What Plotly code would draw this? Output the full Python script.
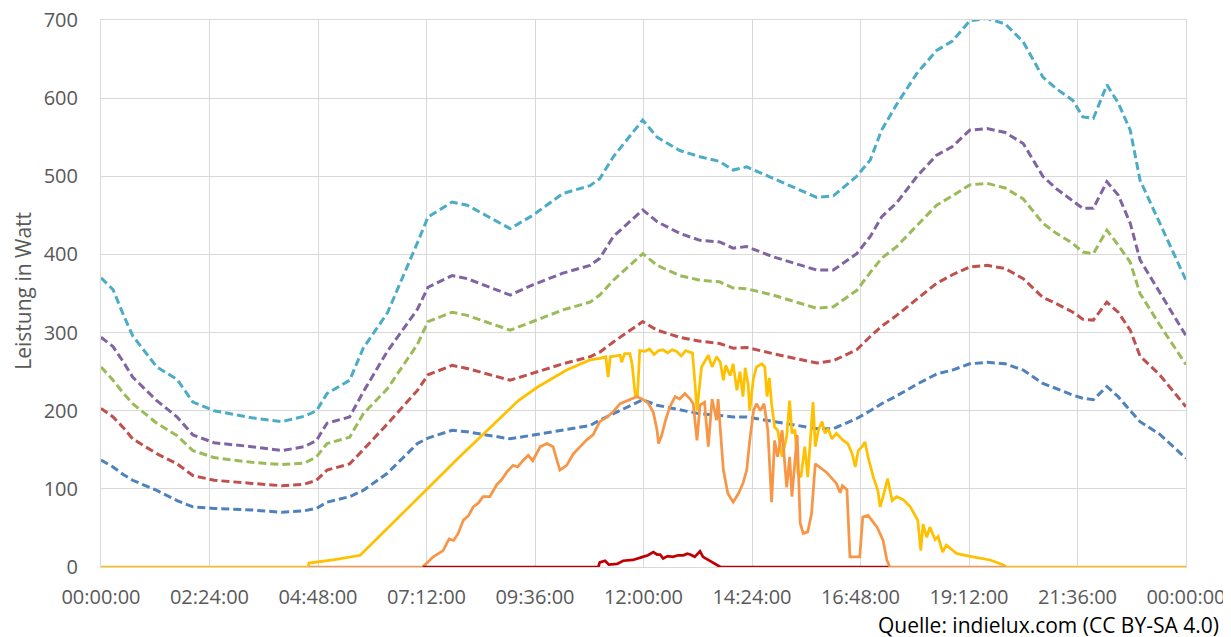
import pandas as pd
import plotly.graph_objects as go

# ---------------- data (minutes since midnight) ----------------
T = [0, 16, 30, 42, 74, 101, 122, 150, 200, 240, 270, 286, 300, 330, 348,
     380, 420, 434, 466, 486, 543, 573, 613, 649, 662, 680, 719, 738, 768, 795,
     821, 839, 857, 892, 950, 972, 1003, 1021, 1036, 1056, 1083, 1109, 1130,
     1153, 1176, 1200, 1224, 1250, 1268, 1290, 1303, 1317, 1335, 1350, 1366,
     1379, 1405, 1440]

blue = [137, 128, 118, 111, 98, 85, 77, 75, 73, 70, 72, 75, 83, 90, 98,
        120, 158, 165, 175, 173, 164, 169, 175, 181, 188, 196, 214, 207, 201, 196,
        194, 192, 192, 186, 177, 177, 190, 200, 209, 219, 234, 247, 252,
        260, 262, 260, 252, 235, 228, 220, 216, 214, 231, 218, 200,
        186, 170, 139]

red = [203, 192, 178, 164, 145, 132, 117, 111, 107, 104, 106, 111, 124, 132, 150,
       183, 226, 246, 258, 254, 239, 248, 260, 269, 275, 288, 314, 303, 294, 289,
       286, 280, 281, 273, 261, 264, 278, 295, 308, 322, 343, 363, 374,
       384, 386, 382, 369, 345, 337, 326, 317, 316, 339, 326, 303,
       270, 246, 205]

green = [256, 239, 222, 209, 184, 168, 149, 140, 134, 131, 133, 141, 158, 166, 196,
         228, 285, 314, 326, 322, 303, 314, 329, 339, 348, 367, 401, 386, 373, 367,
         365, 357, 356, 348, 331, 333, 354, 377, 395, 410, 437, 463, 475,
         489, 491, 485, 471, 440, 427, 414, 403, 401, 431, 412, 390,
         350, 310, 259]

purple = [294, 282, 262, 243, 213, 192, 169, 159, 154, 149, 154, 162, 184, 192, 224,
          276, 330, 358, 373, 369, 348, 361, 376, 386, 395, 423, 457, 442, 427, 418,
          416, 408, 410, 397, 380, 380, 401, 423, 448, 466, 500, 527, 538,
          559, 561, 556, 542, 500, 484, 469, 459, 459, 493, 476, 440,
          393, 352, 296]

cyan = [370, 355, 322, 296, 256, 240, 211, 200, 191, 186, 193, 200, 222, 239, 280,
        325, 415, 448, 467, 463, 433, 450, 478, 488, 497, 525, 572, 550, 533, 525,
        519, 508, 512, 497, 473, 475, 500, 521, 559, 592, 632, 661, 673,
        699, 702, 695, 672, 627, 612, 597, 576, 574, 617, 594, 559,
        495, 440, 367]

yellow_t = [0, 275, 276, 308, 344, 397, 475, 554, 579, 618,
            649, 662, 670, 673, 676, 689, 691, 695, 702, 705,
            709, 712, 715, 722, 728, 734, 740, 746, 752, 758,
            764, 770, 776, 781, 785, 788, 791, 797, 801, 806,
            811, 817, 822, 826, 829, 835, 839, 844, 848, 852,
            855, 859, 861, 866, 870, 877, 881, 884, 887, 890,
            894, 898, 904, 910, 914, 917, 921, 925, 929, 934,
            938, 941, 945, 948, 952, 957, 961, 965, 970, 976,
            985, 991, 997, 1001, 1005, 1010, 1014, 1018, 1025, 1031,
            1034, 1038, 1044, 1050, 1056, 1065, 1074, 1084, 1088, 1091,
            1096, 1100, 1107, 1111, 1117, 1122, 1127, 1136, 1157, 1180,
            1197, 1202, 1440]
yellow_v = [0, 0, 5, 9, 15, 66, 140, 213, 230, 252,
            265, 267, 269, 243, 269, 271, 262, 273, 273, 259,
            220, 218, 277, 276, 279, 272, 277, 278, 274, 278,
            276, 270, 277, 275, 274, 239, 200, 256, 262, 271,
            256, 269, 262, 239, 258, 245, 260, 226, 250, 218,
            255, 232, 200, 242, 256, 260, 256, 218, 242, 209,
            179, 175, 141, 167, 213, 171, 176, 120, 115, 154,
            115, 154, 211, 154, 175, 186, 171, 177, 164, 171,
            162, 158, 145, 128, 149, 154, 160, 141, 115, 98,
            77, 90, 113, 85, 90, 86, 77, 60, 21, 55,
            38, 51, 35, 39, 19, 28, 24, 17, 13, 9,
            3, 0, 0]

orange_t = [276, 427, 441, 448, 454, 462, 468, 474, 481, 488,
            494, 501, 507, 516, 525, 532, 539, 547, 553, 560,
            567, 573, 583, 592, 600, 605, 609, 618, 627, 636,
            645, 653, 662, 672, 680, 689, 698, 711, 718, 726,
            733, 738, 740, 744, 749, 755, 762, 768, 775, 782,
            786, 791, 795, 801, 806, 811, 817, 819, 826, 832,
            839, 846, 852, 857, 861, 866, 870, 875, 880, 885,
            890, 894, 898, 904, 910, 914, 917, 924, 928, 932,
            938, 943, 948, 954, 963, 976, 981, 984, 990, 994,
            1007, 1011, 1018, 1030, 1038, 1043, 1047, 1200]
orange_v = [0, 0, 13, 17, 21, 36, 34, 43, 60, 66,
            77, 82, 90, 90, 105, 112, 122, 130, 128, 136,
            143, 136, 154, 158, 154, 137, 124, 130, 145, 154,
            163, 169, 186, 192, 199, 209, 213, 218, 215, 210,
            198, 175, 158, 168, 187, 205, 218, 215, 222, 215,
            209, 162, 207, 211, 154, 215, 188, 215, 124, 94,
            83, 94, 107, 124, 162, 200, 209, 200, 209, 175,
            83, 162, 141, 175, 102, 141, 90, 169, 56, 43,
            45, 68, 132, 128, 121, 107, 95, 104, 99, 13,
            13, 64, 66, 51, 34, 9, 0, 0]

darkred_t = [427, 660, 662, 669, 674, 685, 693, 706, 719, 726, 733, 738, 742,
             746, 752, 759, 766, 773, 778, 782, 788, 795, 799, 806, 810, 815,
             819, 822, 1045]
darkred_v = [0, 0, 6, 8, 3, 4, 8, 9, 13, 15, 19, 16, 16,
             11, 14, 13, 15, 15, 17, 16, 13, 20, 13, 9, 6, 4,
             1, 0, 0]

x_tick_format = "%H:%M:%S"
y_title = "Leistung in Watt"
source_text = "Quelle: indielux.com (CC BY-SA 4.0)"

# ---------------- figure ----------------
base = pd.Timestamp("2000-01-01")


def to_time(mins):
    return [base + pd.Timedelta(minutes=m) for m in mins]


fig = go.Figure()

dashed = [(blue, "#4F81BD"), (red, "#C0504D"), (green, "#9BBB59"),
          (purple, "#8064A2"), (cyan, "#4BACC6")]
for vals, col in dashed:
    fig.add_trace(go.Scatter(x=to_time(T), y=vals, mode="lines",
                             line=dict(color=col, width=3, dash="8px,4px"),
                             hoverinfo="skip"))

fig.add_trace(go.Scatter(x=to_time(yellow_t), y=yellow_v, mode="lines",
                         line=dict(color="#FFC000", width=2.75)))
fig.add_trace(go.Scatter(x=to_time(orange_t), y=orange_v, mode="lines",
                         line=dict(color="#F79646", width=2.75)))
fig.add_trace(go.Scatter(x=to_time(darkred_t), y=darkred_v, mode="lines",
                         line=dict(color="#C00000", width=2.75)))

font_family = "Open Sans, Noto Sans, sans-serif"

# the page body adds an 8px offset, so the figure is 8px smaller than the window
fig.update_layout(
    width=1223, height=629,
    margin=dict(l=93, r=45, t=12, b=70, autoexpand=False),
    paper_bgcolor="white", plot_bgcolor="white",
    showlegend=False,
    font=dict(family=font_family, color="#595959"),
    xaxis=dict(
        type="date", automargin=False,
        range=[base, base + pd.Timedelta(days=1)],
        tick0=base, dtick=144 * 60 * 1000,
        tickformat=x_tick_format,
        showgrid=True, gridcolor="#D9D9D9", gridwidth=1,
        showline=True, linecolor="#D9D9D9", mirror=True,
        ticks="", ticklabelstandoff=12, ticklabeloverflow="allow",
        tickfont=dict(size=20, color="#595959"),
        zeroline=False,
    ),
    yaxis=dict(
        automargin=False,
        range=[0, 700], dtick=100, tick0=0,
        showgrid=True, gridcolor="#D9D9D9", gridwidth=1,
        showline=True, linecolor="#D9D9D9", mirror=True,
        ticks="", ticklabelstandoff=18, ticklabeloverflow="allow",
        tickfont=dict(size=20, color="#595959"),
        zeroline=False,
    ),
    annotations=[
        dict(text=y_title, textangle=-90, xref="paper", yref="paper",
             x=-0.0719, y=0.505, xanchor="center", yanchor="middle",
             showarrow=False, font=dict(size=21, color="#595959", family=font_family)),
        dict(text=source_text, xref="paper", yref="paper",
             x=(868 - 93) / 1085, y=-(617 - 559) / 547, xanchor="left", yanchor="middle",
             showarrow=False, font=dict(size=21, color="#000000", family=font_family)),
    ],
)

fig.write_html("out.html")
